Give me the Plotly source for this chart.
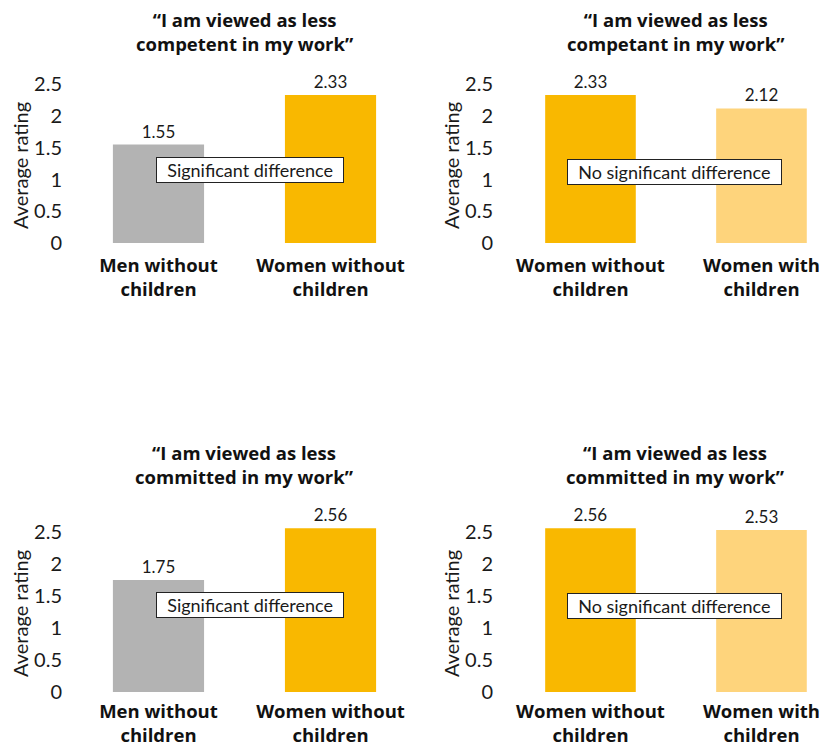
import plotly.graph_objects as go

# Survey results: average agreement rating per group
titles = [
    "“I am viewed as less<br>competent in my work”",
    "“I am viewed as less<br>competant in my work”",
    "“I am viewed as less<br>committed in my work”",
    "“I am viewed as less<br>committed in my work”",
]
groups_tl = ["Men without<br>children", "Women without<br>children"]
groups_tr = ["Women without<br>children", "Women with<br>children"]
groups_bl = ["Men without<br>children", "Women without<br>children"]
groups_br = ["Women without<br>children", "Women with<br>children"]
values_tl = [1.55, 2.33]
values_tr = [2.33, 2.12]
values_bl = [1.75, 2.56]
values_br = [2.56, 2.53]
notes = ["Significant difference", "No significant difference",
         "Significant difference", "No significant difference"]
ytick_vals = [0, 0.5, 1, 1.5, 2, 2.5]
ytick_text = ["0", "0.5", "1", "1.5", "2", "2.5"]
y_title = "Average rating"

GRAY = "#b3b3b3"
ORANGE = "#f9b800"
LIGHT = "#fed47c"
colors_tl = [GRAY, ORANGE]
colors_tr = [ORANGE, LIGHT]
colors_bl = [GRAY, ORANGE]
colors_br = [ORANGE, LIGHT]

FONT = "Lato"
BOLD_FONT = "Open Sans"
W, H = 822, 747

panels = [
    (groups_tl, values_tl, colors_tl),
    (groups_tr, values_tr, colors_tr),
    (groups_bl, values_bl, colors_bl),
    (groups_br, values_br, colors_br),
]

# panel geometry in pixels: (x-left, x-right, y-top, y-bottom), plus x range
geom = [
    (68, 405, 68.4, 243, [-0.526, 1.433]),
    (499, 822, 68.4, 243, [-0.535, 1.354]),
    (68, 405, 516, 692, [-0.526, 1.433]),
    (499, 822, 516, 692, [-0.535, 1.354]),
]
# gap between plot floor and category labels (bottom row kept inside the page)
label_gap = [9, 9, 6, 6]
# vertical centre of each two-line panel title (pixels from top)
title_mid = [32, 32, 464.5, 464.5]
# centre of the rotated y-axis title (pixels from top-left)
ytitle_pos = [(20, 166), (451, 166), (20, 614), (451, 614)]
# note box anchor (data coords)
note_pos = [(0.53, 1.15), (0.494, 1.12), (0.53, 1.36), (0.494, 1.34)]

PAD = "\u00a0\u00a0"

fig = go.Figure()
layout = dict(
    width=W, height=H,
    margin=dict(l=0, r=0, t=0, b=0, autoexpand=False),
    paper_bgcolor="white", plot_bgcolor="white",
    showlegend=False,
    font=dict(family=FONT, color="#1a1a1a"),
)
annotations = []

for i, ((cats, vals, cols), (x0, x1, y0, y1, xr)) in enumerate(zip(panels, geom)):
    n = "" if i == 0 else str(i + 1)
    xa, ya = "x" + n, "y" + n
    fig.add_trace(go.Bar(
        x=[0, 1], y=vals, marker=dict(color=cols, line=dict(width=0)),
        width=0.53, text=[f"{v:.2f}" for v in vals], textposition="outside",
        textfont=dict(family=FONT, size=17, color="#1a1a1a"),
        cliponaxis=False, xaxis=xa, yaxis=ya, hoverinfo="skip",
    ))
    layout["xaxis" + n] = dict(
        domain=[x0 / W, x1 / W], range=xr, anchor=ya, automargin=False,
        tickvals=[0, 1], ticktext=[f"<b>{c}</b>" for c in cats],
        tickfont=dict(family=BOLD_FONT, size=18.5, color="#111"),
        ticklabelstandoff=label_gap[i],
        showgrid=False, zeroline=False, showline=False, ticks="",
        fixedrange=True,
    )
    layout["yaxis" + n] = dict(
        domain=[1 - y1 / H, 1 - y0 / H], range=[0, 2.75], anchor=xa, automargin=False,
        tickvals=ytick_vals, ticktext=ytick_text,
        tickfont=dict(family=FONT, size=20, color="#1a1a1a"),
        ticklabelstandoff=5,
        showgrid=False, zeroline=False, showline=False, ticks="",
        fixedrange=True,
    )
    # y-axis title
    tx, ty = ytitle_pos[i]
    annotations.append(dict(
        text=y_title, xref="paper", yref="paper", x=tx / W, y=1 - ty / H,
        xanchor="center", yanchor="middle", textangle=-90, showarrow=False,
        font=dict(family=FONT, size=20, color="#1a1a1a"),
    ))
    # panel title
    annotations.append(dict(
        text=f"<b>{titles[i]}</b>", xref="x" + n, yref="paper",
        x=0.5, y=1 - title_mid[i] / H, yanchor="middle", xanchor="center",
        showarrow=False, font=dict(family=BOLD_FONT, size=18.5, color="#111"),
    ))
    # significance note
    nx, ny = note_pos[i]
    annotations.append(dict(
        text=PAD + notes[i] + PAD, xref=xa, yref=ya, x=nx, y=ny,
        showarrow=False, font=dict(family=FONT, size=18, color="#1a1a1a"),
        bgcolor="white", bordercolor="#222", borderwidth=1, borderpad=1,
    ))

layout["annotations"] = annotations
fig.update_layout(**layout)
fig.write_html("out.html")
